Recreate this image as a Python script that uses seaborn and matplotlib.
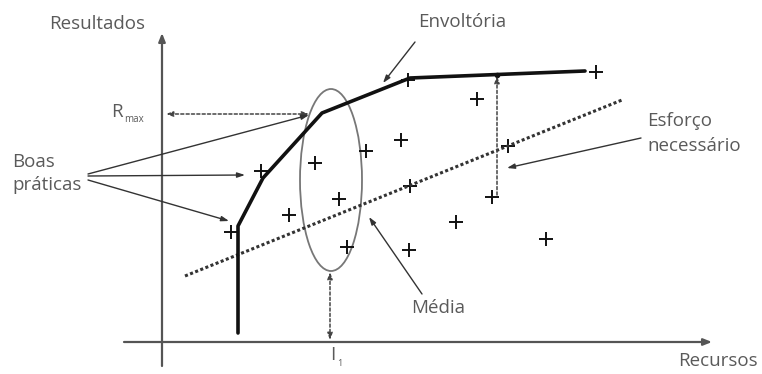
import numpy as np
import pandas as pd
import seaborn as sns
import matplotlib.pyplot as plt
from matplotlib.patches import Ellipse

sns.set_style('white')
plt.rcParams['font.family'] = ['Open Sans', 'DejaVu Sans']

# scattered projects (+ markers), in diagram units (x right, y down)
pts_x = [231, 261, 315, 366, 339, 289, 347, 408, 477, 401, 508, 596, 410, 492, 456, 409, 546]
pts_y = [232, 171, 163, 151, 199, 215, 247, 80, 99, 140, 146, 72, 186, 197, 222, 250, 239]

# envelope of best practice
env_x = [238, 238, 263, 322, 410, 585]
env_y = [333, 226, 178, 113, 78, 71]

# mean trend line
mean_x = [185, 622]
mean_y = [276, 100]

# ellipse around I1
ell_center = (331, 180)
ell_w, ell_h = 62, 182

TXT = '#5a5a5a'
AX = '#555555'

fig = plt.figure(figsize=(7.62, 3.74), dpi=100)
ax = fig.add_axes([0, 0, 1, 1])
ax.set_xlim(0, 762)
ax.set_ylim(374, 0)
ax.axis('off')

# axes of the diagram
arr = dict(arrowstyle='-|>,head_length=0.5,head_width=0.2', color=AX, lw=1.6, shrinkA=0, shrinkB=0)
ax.annotate('', xy=(162, 33), xytext=(162, 366), arrowprops=arr)
ax.annotate('', xy=(712, 342), xytext=(124, 342), arrowprops=arr)

# mean dotted line
sns.lineplot(x=mean_x, y=mean_y, ax=ax, color='#333333', lw=2.2, linestyle=(0, (1, 0.8)),
             sort=False, estimator=None)

# ellipse
ax.add_patch(Ellipse(ell_center, ell_w, ell_h, fill=False, ec='#777777', lw=1.3))

# envelope
sns.lineplot(x=env_x, y=env_y, ax=ax, color='#111111', lw=2.6, sort=False, estimator=None)
ax.plot([497], [75], 'o', color='#111111', ms=3)

# points
df = pd.DataFrame({'x': pts_x, 'y': pts_y})
sns.scatterplot(data=df, x='x', y='y', ax=ax, marker='+', s=90, color='#111111', linewidth=1.4)

# dotted dimension arrows
darr = dict(arrowstyle='<|-|>,head_length=0.4,head_width=0.15', color='#444444', lw=1.1,
            linestyle=(0, (2, 1.5)), shrinkA=0, shrinkB=0)
ax.annotate('', xy=(166, 114), xytext=(309, 114), arrowprops=darr)
ax.annotate('', xy=(330, 272), xytext=(330, 340), arrowprops=darr)
ax.annotate('', xy=(497, 76), xytext=(497, 195),
            arrowprops=dict(arrowstyle='-|>,head_length=0.4,head_width=0.15', color='#444444',
                            lw=1.1, linestyle=(0, (2, 1.5)), shrinkA=0, shrinkB=0))

# pointer arrows
parr = dict(arrowstyle='-|>,head_length=0.45,head_width=0.15', color='#333333', lw=1.0, shrinkA=0, shrinkB=0)
ax.annotate('', xy=(309, 115), xytext=(88, 174), arrowprops=parr)
ax.annotate('', xy=(245, 175), xytext=(88, 176), arrowprops=parr)
ax.annotate('', xy=(229, 221), xytext=(88, 180), arrowprops=parr)
ax.annotate('', xy=(383, 83), xytext=(415, 42), arrowprops=parr)
ax.annotate('', xy=(507, 168), xytext=(641, 138), arrowprops=parr)
ax.annotate('', xy=(369, 217), xytext=(422, 294), arrowprops=parr)

# labels
fs = 13.5
ax.text(97, 24, 'Resultados', ha='center', va='center', fontsize=fs, color=TXT)
ax.text(718, 361, 'Recursos', ha='center', va='center', fontsize=fs, color=TXT)
ax.text(462, 22, 'Envoltória', ha='center', va='center', fontsize=fs, color=TXT)
ax.text(647, 121, 'Esforço', ha='left', va='center', fontsize=fs, color=TXT)
ax.text(647, 146, 'necessário', ha='left', va='center', fontsize=fs, color=TXT)
ax.text(12, 162, 'Boas', ha='left', va='center', fontsize=fs, color=TXT)
ax.text(12, 185, 'práticas', ha='left', va='center', fontsize=fs, color=TXT)
ax.text(438, 308, 'Média', ha='center', va='center', fontsize=fs, color=TXT)
ax.text(111, 112, 'R', ha='left', va='center', fontsize=fs, color=TXT)
ax.text(124, 119, 'max', ha='left', va='center', fontsize=7, color=TXT)
ax.text(333, 355, 'I', ha='center', va='center', fontsize=fs, color=TXT)
ax.text(337, 364, '1', ha='left', va='center', fontsize=6.5, color=TXT)

fig.savefig('out.png', dpi=100)
